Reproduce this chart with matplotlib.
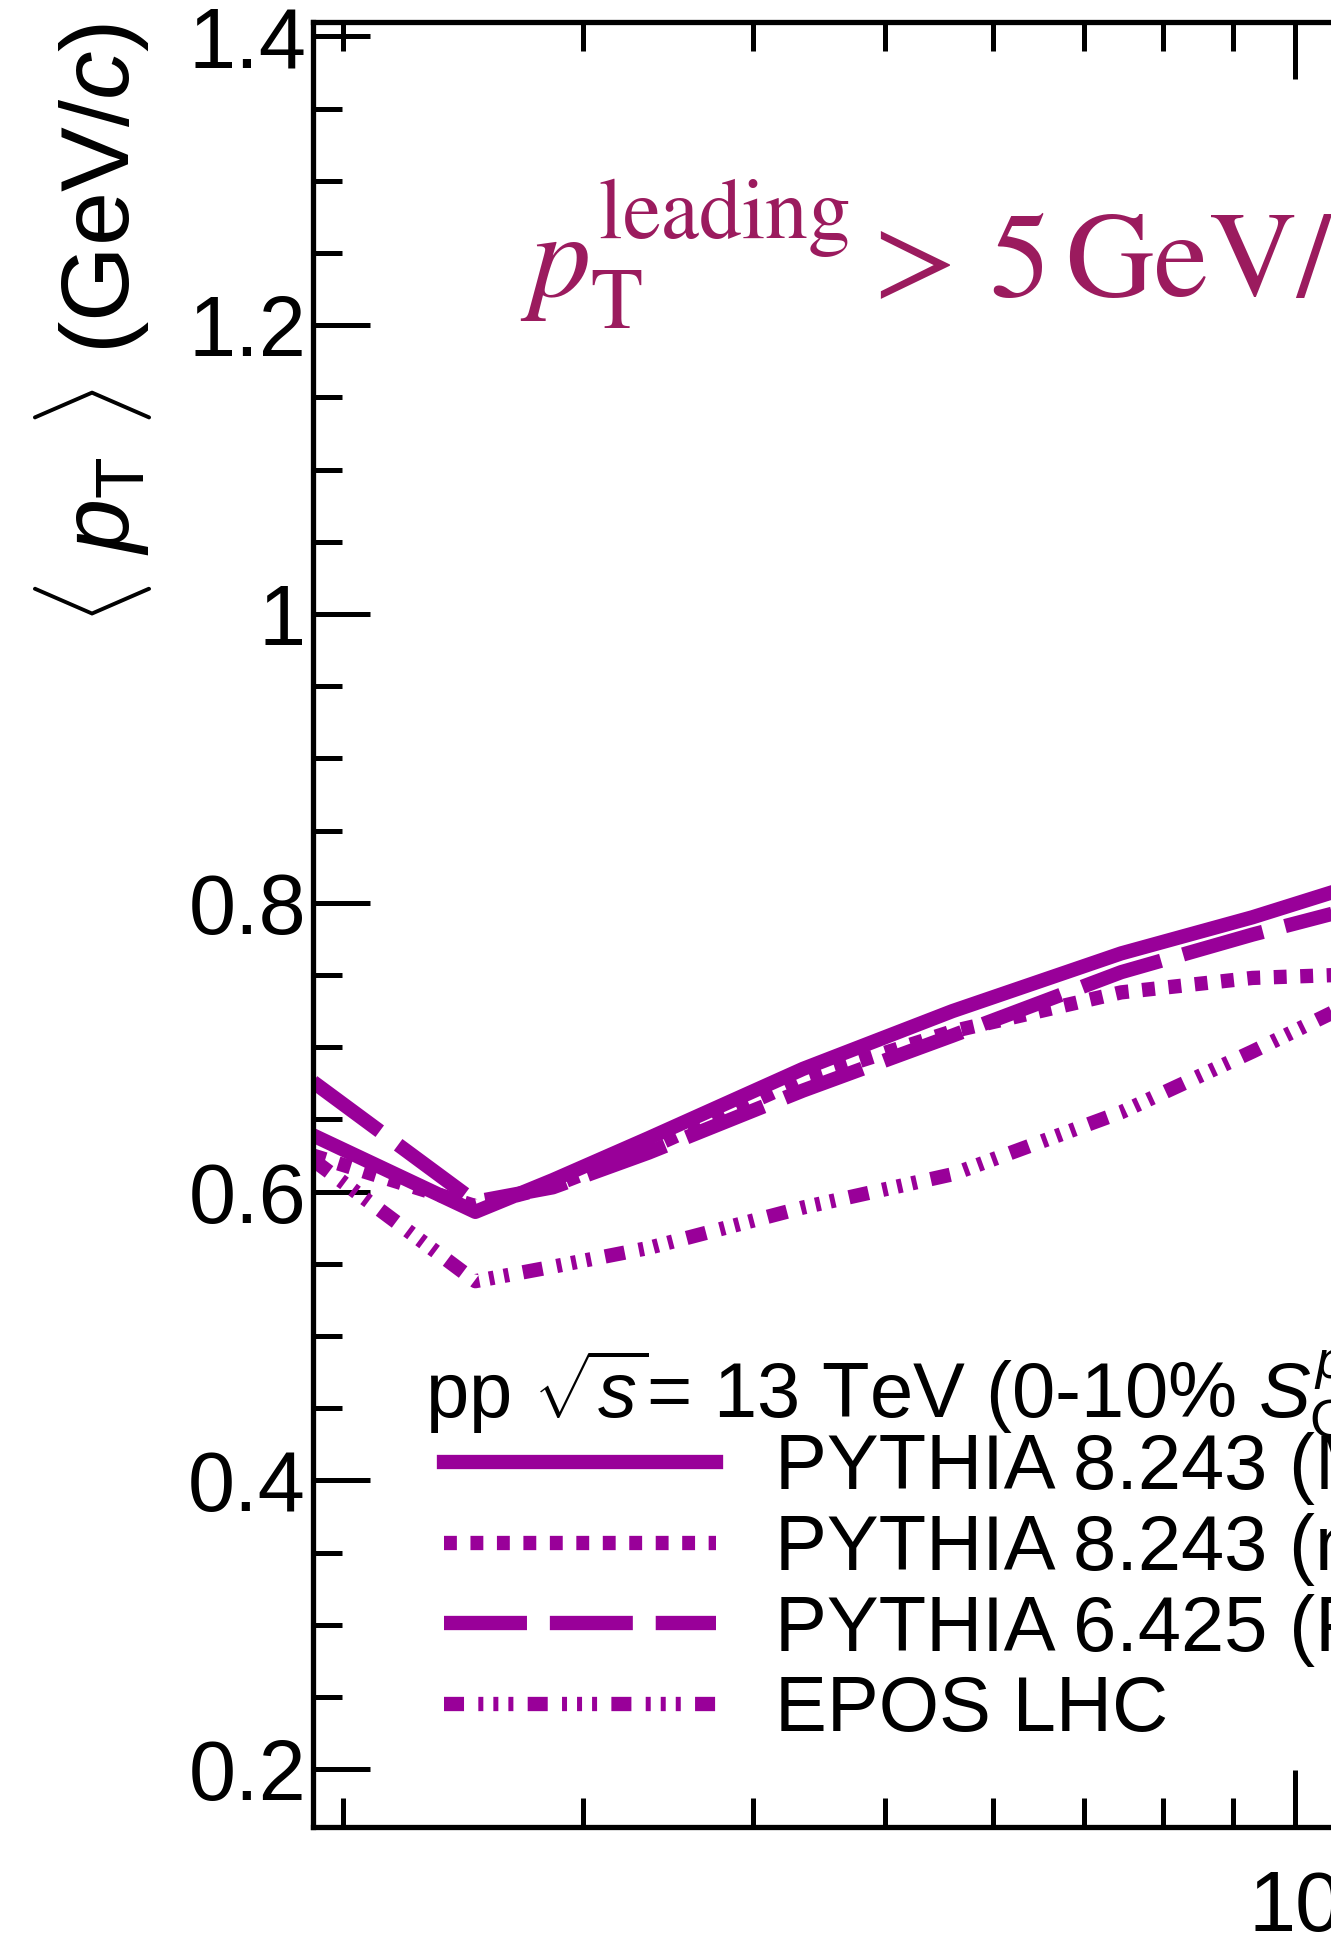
import numpy as np
import matplotlib
matplotlib.use("Agg")
import matplotlib.pyplot as plt
from matplotlib.ticker import FixedLocator, NullFormatter

plt.rcParams['font.family'] = ['Liberation Sans', 'DejaVu Sans']
plt.rcParams['mathtext.fontset'] = 'custom'
plt.rcParams['mathtext.rm'] = 'Liberation Sans'
plt.rcParams['mathtext.it'] = 'Liberation Sans:italic'
plt.rcParams['mathtext.bf'] = 'Liberation Sans:bold'

# <pT> vs multiplicity (log x)
x_vals = [1.9, 2.5, 2.85, 3.35, 4.35, 5.6, 7.45, 9.3, 10.7, 12.5]
pythia8_monash = [0.639, 0.586, 0.608, 0.637, 0.685, 0.725, 0.765, 0.790, 0.808, 0.826]
pythia8_nocr   = [0.625, 0.590, 0.604, 0.630, 0.678, 0.711, 0.738, 0.748, 0.750, 0.748]
pythia6_perugia = [0.676, 0.593, 0.603, 0.627, 0.670, 0.708, 0.752, 0.778, 0.793, 0.808]
epos_lhc       = [0.622, 0.538, 0.548, 0.561, 0.589, 0.612, 0.655, 0.697, 0.725, 0.752]

labels = ['PYTHIA 8.243 (Monash)', 'PYTHIA 8.243 (no CR)',
          'PYTHIA 6.425 (Perugia 2011)', 'EPOS LHC']

col = '#990099'
lw = 10.3

W, H = 1331, 1943
fig = plt.figure(figsize=(W/100, H/100), dpi=100)

xlo, xhi = 1.9, 50.0
px_per_dec = 1362.0
ax_w = np.log10(xhi/xlo) * px_per_dec / W
ax = fig.add_axes([313/W, 1 - 1827/H, ax_w, (1827 - 22)/H])

ax.plot(x_vals, pythia8_monash, color=col, lw=lw, ls='-', label=labels[0])
ax.plot(x_vals, pythia8_nocr, color=col, lw=lw, ls=(0, (0.9, 0.95)), label=labels[1])
ax.plot(x_vals, pythia6_perugia, color=col, lw=lw, ls=(0, (5.8, 1.6)), label=labels[2])
ax.plot(x_vals, epos_lhc, color=col, lw=lw,
        ls=(0, (1.4, 1.0, 0.35, 0.7, 0.35, 0.7, 0.35, 1.0)), label=labels[3])

ax.set_xscale('log')
ax.set_xlim(xlo, xhi)
ax.set_ylim(0.16, 1.41)

ax.xaxis.set_major_locator(FixedLocator([10, 100]))
ax.set_xticklabels(['10', '100'])
ax.xaxis.set_minor_locator(FixedLocator([2, 3, 4, 5, 6, 7, 8, 9, 20, 30, 40, 50]))
ax.xaxis.set_minor_formatter(NullFormatter())
ax.set_yticks([0.2, 0.4, 0.6, 0.8, 1.0, 1.2, 1.4])
ax.set_yticklabels(['0.2', '0.4', '0.6', '0.8', '1', '1.2', '1.4'])
ax.yaxis.set_minor_locator(FixedLocator(np.arange(0.2, 1.41, 0.05)))

ax.tick_params(which='both', direction='in', top=True, right=True, width=3.6, labelsize=61)
ax.tick_params(which='major', length=41)
ax.tick_params(which='minor', length=21)
ax.tick_params(axis='y', pad=5)
ax.tick_params(axis='x', pad=30)
for s in ax.spines.values():
    s.set_linewidth(3.8)

fig.text(93/W, 1 - 324/H, r'$\langle\ p_{\rm T}\ \rangle$ (GeV/$c$)', rotation=90,
         ha='center', va='center', fontsize=70)

fig.text(520/W, 1 - 297/H, r'$p_{\rm T}^{\rm leading} >\,5\,{\rm GeV}/c$',
         color='#9b1b5e', fontsize=88, va='baseline', math_fontfamily='stix')

fig.text(425/W, 1 - 1417/H, r'pp $\sqrt{s}\!\!$ = 13 TeV (0-10% $S_{\rm O}^{p_{\rm T}=1}$)',
         fontsize=56, va='baseline')

leg = ax.legend(loc='upper left', bbox_to_anchor=(444/W, 1 - 1432/H), bbox_transform=fig.transFigure,
                frameon=False, fontsize=56, handlelength=3.5, handletextpad=0.76,
                labelspacing=0.1, borderpad=0, borderaxespad=0)

fig.savefig('out.png', dpi=100)
